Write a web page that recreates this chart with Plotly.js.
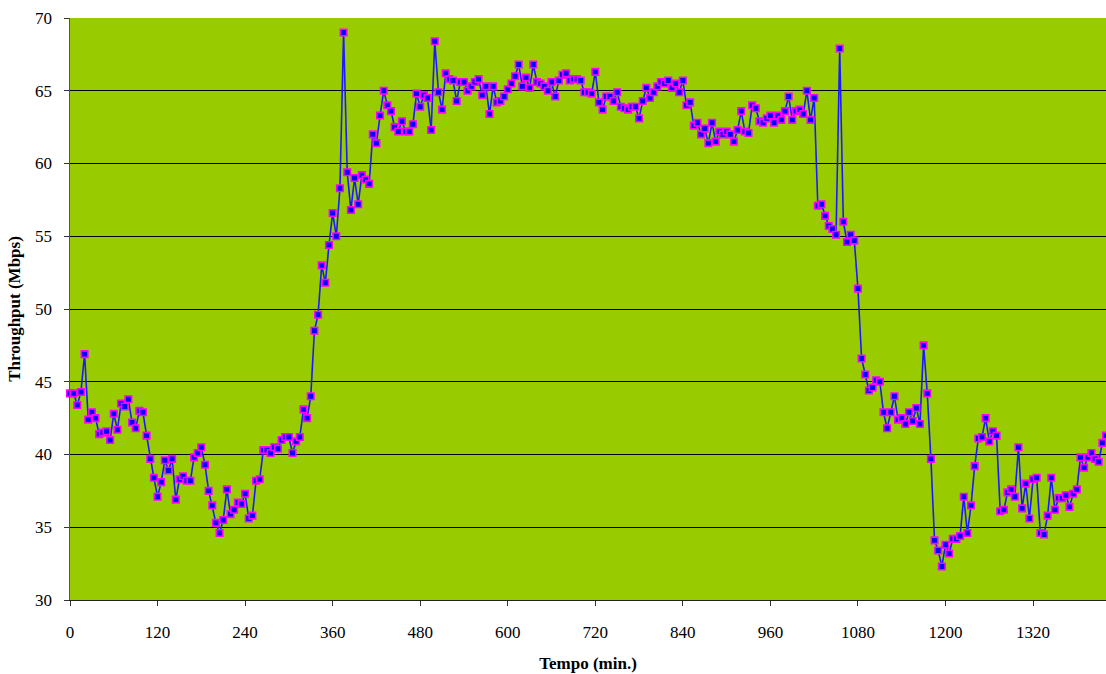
<!DOCTYPE html>
<html>
<head>
<meta charset="utf-8">
<script src="https://cdn.plot.ly/plotly-3.0.1.min.js"></script>
<style>
  html, body { margin: 0; padding: 0; background: #ffffff; }
  #chart { width: 1106px; height: 674px; }
</style>
</head>
<body>
<div id="chart"></div>
<script>
// Time step between samples (minutes)
const stepMinutes = 5;

// Throughput samples (Mbps), one every 5 minutes starting at t = 0
const throughput0to135 = [44.2, 44.2, 43.4, 44.3, 46.9, 42.4, 42.9, 42.5, 41.4, 41.5,
  41.6, 41.0, 42.8, 41.7, 43.5, 43.3, 43.8, 42.2, 41.8, 43.0,
  42.9, 41.3, 39.7, 38.4, 37.1, 38.1, 39.6, 38.9];
const throughput140to280 = [39.7, 36.9, 38.3, 38.5, 38.2, 38.2, 39.8, 40.1, 40.5, 39.3,
  37.5, 36.5, 35.3, 34.6, 35.5, 37.6, 35.9, 36.2, 36.7, 36.6,
  37.3, 35.6, 35.8, 38.2, 38.3, 40.3, 40.3, 40.1, 40.5];
const throughput285to345 = [40.4, 41.0, 41.2, 41.2, 40.1, 40.9, 41.2, 43.1, 42.5, 44.0, 48.5, 49.6, 53.0];
const throughput350to495 = [51.8, 54.4, 56.6, 55.0, 58.3, 69.0, 59.4, 56.8, 59.0, 57.2,
  59.2, 58.9, 58.6, 62.0, 61.4, 63.3, 65.0, 64.0, 63.6, 62.5,
  62.2, 62.9, 62.2, 62.2, 62.7, 64.8, 63.9, 64.7, 64.5, 62.3];
const throughput500to675 = [68.4, 64.9, 63.7, 66.2, 65.8, 65.7, 64.3, 65.6, 65.6, 65.0,
  65.3, 65.6, 65.8, 64.7, 65.3, 63.4, 65.3, 64.2, 64.3, 64.6,
  65.1, 65.5, 66.0, 66.8, 65.3, 65.9, 65.2, 66.8, 65.6, 65.5,
  65.3, 65.0, 65.6, 64.6, 65.7, 66.1];
const throughput680to840 = [66.2, 65.7, 65.8, 65.8, 65.7, 64.9, 64.9, 64.8, 66.3, 64.2,
  63.7, 64.6, 64.6, 64.3, 64.9, 63.9, 63.8, 63.7, 63.9, 63.9,
  63.1, 64.3, 65.2, 64.5, 64.9, 65.3, 65.6, 65.5, 65.7, 65.2,
  65.5, 64.9, 65.7];
const throughput845to1020 = [64.0, 64.2, 62.6, 62.8, 62.0, 62.4, 61.4, 62.8, 61.5, 62.2,
  62.0, 62.2, 62.0, 61.5, 62.3, 63.6, 62.2, 62.1, 64.0, 63.8,
  62.9, 62.8, 63.1, 63.3, 62.8, 63.3, 63.0, 63.6, 64.6, 63.0,
  63.6, 63.7, 63.4, 65.0, 63.0, 64.5];
const throughput1025to1075 = [57.1, 57.2, 56.4, 55.7, 55.5, 55.1, 67.9, 56.0, 54.6, 55.1, 54.7];
const throughput1080to1175 = [51.4, 46.6, 45.5, 44.4, 44.6, 45.1, 45.0, 42.9, 41.8, 42.9,
  44.0, 42.4, 42.5, 42.1, 42.9, 42.3, 43.2, 42.1, 47.5, 44.2];
const throughput1180to1300 = [39.7, 34.1, 33.4, 32.3, 33.8, 33.2, 34.2, 34.2, 34.4, 37.1,
  34.6, 36.5, 39.2, 41.1, 41.2, 42.5, 40.9, 41.6, 41.3, 36.1,
  36.2, 37.4, 37.6, 37.1, 40.5];
const throughput1305to1420 = [36.3, 38.0, 35.6, 38.3, 38.4, 34.6, 34.5, 35.8, 38.4, 36.2,
  37.0, 37.0, 37.2, 36.4, 37.3, 37.6, 39.8, 39.1, 39.8, 40.1,
  39.7, 39.5, 40.8, 41.3];

// Axis tick labels
const xTickValues = [0, 120, 240, 360, 480, 600, 720, 840, 960, 1080, 1200, 1320];
const yTickValues = [30, 35, 40, 45, 50, 55, 60, 65, 70];

const throughput = [].concat(
  throughput0to135, throughput140to280, throughput285to345, throughput350to495,
  throughput500to675, throughput680to840, throughput845to1020, throughput1025to1075,
  throughput1080to1175, throughput1180to1300, throughput1305to1420
);
const minutes = throughput.map((_, i) => i * stepMinutes);

const trace = {
  x: minutes,
  y: throughput,
  type: 'scatter',
  mode: 'lines+markers',
  line: { color: '#1a1aff', width: 1.6 },
  marker: { symbol: 'square', size: 6.5, color: '#0000ff', line: { color: '#ff00ff', width: 1.6 } },
  hoverinfo: 'x+y',
  cliponaxis: false
};

const fontFamily = '"Liberation Serif", "Times New Roman", serif';

const layout = {
  width: 1106,
  height: 674,
  margin: { l: 70, r: 0, t: 18, b: 74 },
  paper_bgcolor: '#ffffff',
  plot_bgcolor: '#99cc00',
  showlegend: false,
  font: { family: fontFamily, size: 17, color: '#000000' },
  xaxis: {
    range: [0, minutes[minutes.length - 1]],
    tickmode: 'array',
    tickvals: xTickValues,
    ticktext: xTickValues.map(String),
    ticks: 'outside',
    ticklen: 5,
    tickcolor: '#333333',
    ticklabelstandoff: 12,
    showline: true,
    linecolor: '#222222',
    linewidth: 1,
    showgrid: false,
    zeroline: false,
    tickfont: { family: fontFamily, size: 17, color: '#000000' },
    title: { text: 'Tempo (min.)', font: { family: fontFamily, size: 17, weight: 'bold', color: '#000000' }, standoff: 15 }
  },
  yaxis: {
    range: [30, 70],
    tickmode: 'array',
    tickvals: yTickValues,
    ticktext: yTickValues.map(String),
    ticks: 'outside',
    ticklen: 5,
    tickcolor: '#333333',
    ticklabelstandoff: 8,
    showline: true,
    linecolor: '#555555',
    linewidth: 1.5,
    showgrid: true,
    gridcolor: '#000000',
    gridwidth: 1,
    zeroline: false,
    tickfont: { family: fontFamily, size: 17, color: '#000000' },
    title: { text: 'Throughput (Mbps)', font: { family: fontFamily, size: 17, weight: 'bold', color: '#000000' }, standoff: 10 }
  }
};

Plotly.newPlot('chart', [trace], layout, { displayModeBar: false, staticPlot: true });
</script>
</body>
</html>
